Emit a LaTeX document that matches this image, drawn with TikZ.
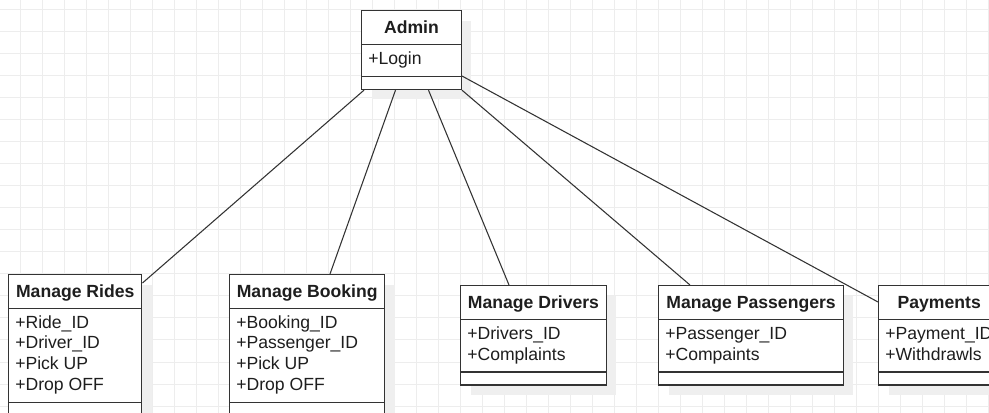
\documentclass[tikz,border=0pt]{standalone}
\usepackage{fontspec}
\setmainfont{Liberation Sans}
\usetikzlibrary{calc,shadows}
\definecolor{gridc}{HTML}{EDEDED}
\definecolor{shadc}{HTML}{EFEFEF}
\definecolor{linec}{HTML}{333333}
\definecolor{textc}{HTML}{1E1E1E}
% #1 name, #2 x, #3 y, #4 width, #5 number of attributes, #6 title, #7 attributes
\newcommand\umlclass[7]{%
  \pgfmathsetmacro\clsh{34.4+#5*20.7+11.3+12.3}%
  \pgfmathsetmacro\clsd{34.4+#5*20.7+11.3}%
  \node[classbox, anchor=north west, minimum width={#4*0.75pt}, minimum height={\clsh*0.75pt}] (#1) at (#2,#3) {};
  \draw[divider] ($(#1.north west)+(0,34.4)$) -- ($(#1.north east)+(0,34.4)$);
  \draw[divider] ($(#1.north west)+(0,\clsd)$) -- ($(#1.north east)+(0,\clsd)$);
  \node[hdr, anchor=base] (#1-t) at ($(#1.north)+(0,23.2)$) {#6};
  \foreach \a [count=\i] in {#7} {
    \node[attr, anchor=base west] (#1-a\i) at ($(#1.north west)+(7,{54.3+(\i-1)*20.7})$) {\a};
  }
}
\begin{document}
\begin{tikzpicture}[x=0.75pt,y=-0.75pt,
  gridline/.style={draw=gridc, line width=0.75pt},
  classbox/.style={draw=linec, fill=white, line width=1.1pt, inner sep=0pt,
    general shadow={fill=shadc, shadow xshift=7.5pt, shadow yshift=-7.5pt}},
  divider/.style={draw=linec, line width=1.1pt},
  hdr/.style={font=\fontsize{13.2}{15.5}\selectfont\bfseries, text=textc, inner sep=0pt},
  attr/.style={font=\fontsize{13.2}{15.5}\selectfont, text=textc, inner sep=0pt},
  conn/.style={draw=linec, line width=0.8pt}]
\useasboundingbox (0,0) rectangle (989,413);
\clip (0,0) rectangle (989,413);
\fill[white] (0,0) rectangle (989,413);
\foreach \x in {20,42,...,988} \draw[gridline] (\x,0) -- (\x,413);
\foreach \y in {10,32,...,412} \draw[gridline] (0,\y) -- (989,\y);

\umlclass{admin}{361}{10}{99.5}{1}{Admin}{+Login}
\umlclass{rides}{8}{274}{133}{4}{Manage Rides}{+Ride\_ID,+Driver\_ID,+Pick UP,+Drop OFF}
\umlclass{booking}{229}{274}{155}{4}{Manage Booking}{+Booking\_ID,+Passenger\_ID,+Pick UP,+Drop OFF}
\umlclass{drivers}{460}{285}{145.5}{2}{Manage Drivers}{+Drivers\_ID,+Complaints}
\umlclass{passengers}{658}{285}{184.7}{2}{Manage Passengers}{+Passenger\_ID,+Compaints}
\umlclass{payments}{878}{285}{121}{2}{Payments}{+Payment\_ID,+Withdrawls}

\draw[conn] ($(admin.south west)+(3,0)$) -- ($(rides.north east)+(0,9)$);
\draw[conn] ($(admin.south west)+(34.5,0)$) -- ($(booking.north west)+(101,0)$);
\draw[conn] ($(admin.south west)+(67.5,0)$) -- ($(drivers.north west)+(49,0)$);
\draw[conn] (admin.south east) -- ($(passengers.north west)+(32,0)$);
\draw[conn] ($(admin.north east)+(0,66)$) -- ($(payments.north west)+(0,17)$);
\end{tikzpicture}
\end{document}
